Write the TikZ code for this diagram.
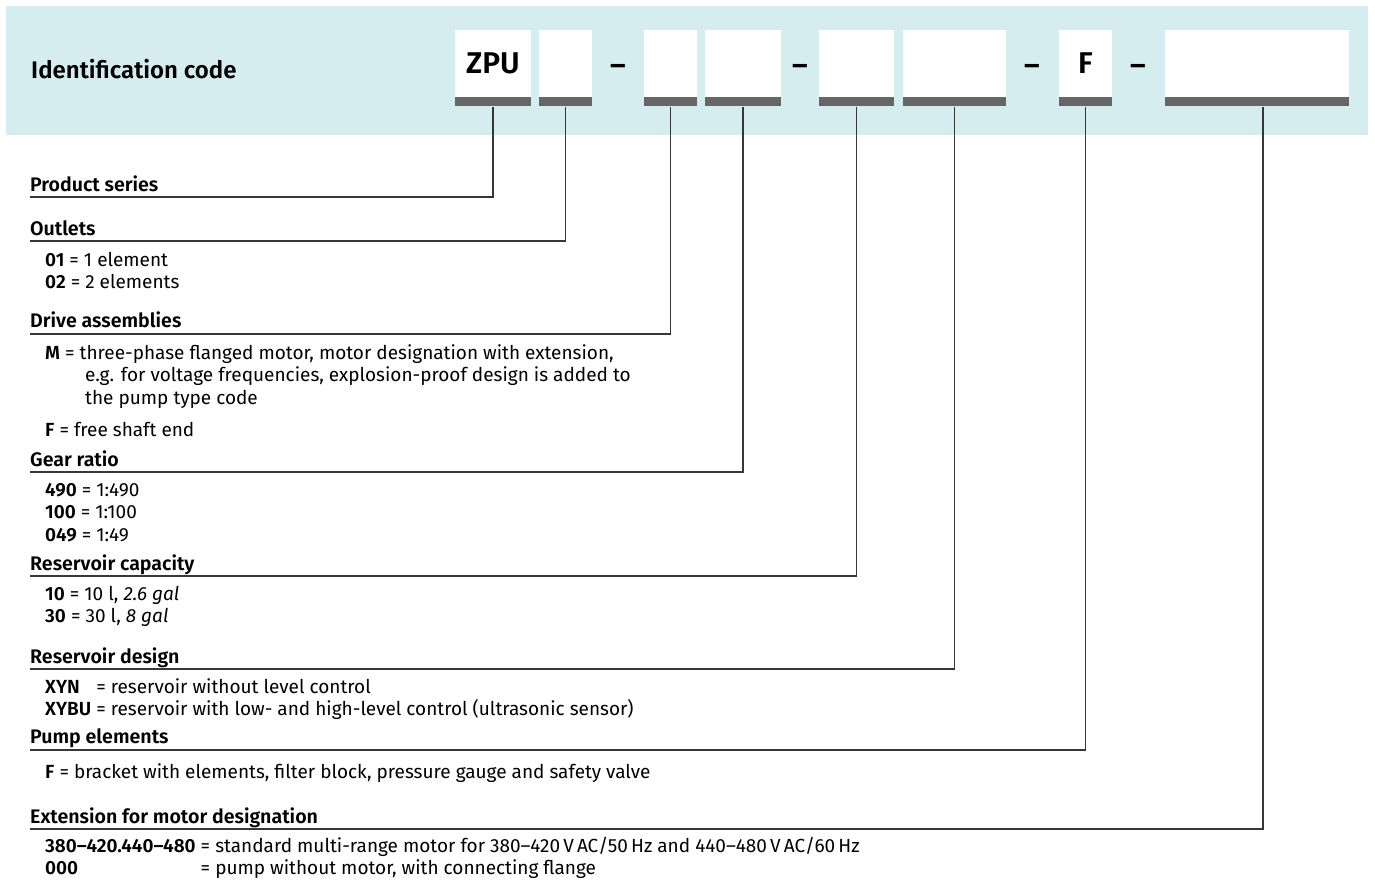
\documentclass[tikz,border=0pt]{standalone}
\usepackage{fontspec}
\setmainfont{Fira Sans}[BoldFont={Fira Sans SemiBold}, BoldItalicFont={Fira Sans SemiBold Italic}]
\usepackage{xcolor}
\usepackage{tikz}
\usetikzlibrary{positioning}
\definecolor{bandcol}{RGB}{214,237,240}
\definecolor{barcol}{RGB}{102,102,102}
\definecolor{leadcol}{RGB}{55,55,55}
\tikzset{
  band/.style={fill=bandcol, inner sep=0pt, anchor=north west},
  field/.style={fill=white, minimum height=67pt, inner sep=0pt, font=\fontsize{30}{31}\selectfont\bfseries},
  bar/.style={fill=barcol, minimum height=9pt, inner sep=0pt},
  sep/.style={anchor=base, inner sep=0pt, font=\fontsize{30}{31}\selectfont\bfseries},
  head/.style={anchor=base west, inner sep=0pt, font=\fontsize{19.6}{22.7}\selectfont\bfseries},
  item/.style={anchor=base west, inner sep=0pt, font=\fontsize{19}{22.7}\selectfont},
  lead/.style={draw=leadcol, line width=1.1pt}
}

\begin{document}
\begin{tikzpicture}[x=1pt, y=-1pt]
    \useasboundingbox (0,0) rectangle (1375,883);

    \node [band, minimum width=1362pt, minimum height=129pt] (band) at (6,6) {};
    \node [head, font=\fontsize{24}{27}\selectfont\bfseries] (title) at (31,78) {Identification code};

    \node [field, minimum width=76pt] (f1) at (493,63.5) {ZPU};
    \node [field, minimum width=53pt] (f2) at (565.5,63.5) {};
    \node [field, minimum width=53pt] (f3) at (670.5,63.5) {};
    \node [field, minimum width=76pt] (f4) at (743,63.5) {};
    \node [field, minimum width=75pt] (f5) at (856.5,63.5) {};
    \node [field, minimum width=103pt] (f6) at (954.5,63.5) {};
    \node [field, minimum width=53pt] (f7) at (1085.5,63.5) {F};
    \node [field, minimum width=184pt] (f8) at (1257,63.5) {};

    \node [bar, minimum width=76pt, below=0pt of f1] (b1) {};
    \node [bar, minimum width=53pt, below=0pt of f2] (b2) {};
    \node [bar, minimum width=53pt, below=0pt of f3] (b3) {};
    \node [bar, minimum width=76pt, below=0pt of f4] (b4) {};
    \node [bar, minimum width=75pt, below=0pt of f5] (b5) {};
    \node [bar, minimum width=103pt, below=0pt of f6] (b6) {};
    \node [bar, minimum width=53pt, below=0pt of f7] (b7) {};
    \node [bar, minimum width=184pt, below=0pt of f8] (b8) {};

    \node [sep] (d1) at (618,75) {–};
    \node [sep] (d2) at (800,75) {–};
    \node [sep] (d3) at (1032,75) {–};
    \node [sep] (d4) at (1138,75) {–};

    \node [head] (hseries) at (30,191) {Product series};
    \node [head] (houtlets) at (30,235) {Outlets};
    \node [item] (outlets) at (45,266) {\begin{tabular}[t]{@{}l@{}}\textbf{01} = 1 element\\ \textbf{02} = 2 elements\end{tabular}};
    \node [head] (hdrive) at (30,327) {Drive assemblies};
    \node [item] (drivem) at (45,359) {\begin{tabular}[t]{@{}l@{}}\textbf{M} = three-phase flanged motor, motor designation with extension,\\ \hspace*{40pt}e.g. for voltage frequencies, explosion-proof design is added to\\ \hspace*{40pt}the pump type code\end{tabular}};
    \node [item] (drivef) at (45,436) {\textbf{F} = free shaft end};
    \node [head] (hgear) at (30,466) {Gear ratio};
    \node [item] (gear) at (45,496) {\begin{tabular}[t]{@{}l@{}}\textbf{490} = 1:490\\ \textbf{100} = 1:100\\ \textbf{049} = 1:49\end{tabular}};
    \node [head] (hcap) at (30,570) {Reservoir capacity};
    \node [item] (cap) at (45,600) {\begin{tabular}[t]{@{}l@{}}\textbf{10} = 10 l, \textit{2.6 gal}\\ \textbf{30} = 30 l, \textit{8 gal}\end{tabular}};
    \node [head] (hdesign) at (30,663) {Reservoir design};
    \node [item] (design) at (45,693) {\begin{tabular}[t]{@{}l@{ }l@{}}\textbf{XYN} & = reservoir without level control\\ \textbf{XYBU} & = reservoir with low- and high-level control (ultrasonic sensor)\end{tabular}};
    \node [head] (hpump) at (30,743) {Pump elements};
    \node [item] (pump) at (45,778) {\textbf{F} = bracket with elements, filter block, pressure gauge and safety valve};
    \node [head] (hext) at (30,823) {Extension for motor designation};
    \node [item] (ext) at (45,852) {\begin{tabular}[t]{@{}l@{ }l@{}}\textbf{380–420.440–480} & = standard multi-range motor for 380–420\,V\,AC/50\,Hz and 440–480\,V\,AC/60\,Hz\\ \textbf{000} & = pump without motor, with connecting flange\end{tabular}};

    \coordinate (lseries) at (30,197);
    \coordinate (loutlets) at (30,241);
    \coordinate (ldrive) at (30,334);
    \coordinate (lgear) at (30,472);
    \coordinate (lcap) at (30,576);
    \coordinate (ldesign) at (30,669);
    \coordinate (lpump) at (30,750);
    \coordinate (lext) at (30,829);

    \draw [lead] (b1.south) |- (lseries);
    \draw [lead] (b2.south) |- (loutlets);
    \draw [lead] (b3.south) |- (ldrive);
    \draw [lead] (b4.south) |- (lgear);
    \draw [lead] (b5.south) |- (lcap);
    \draw [lead] (b6.south) |- (ldesign);
    \draw [lead] (b7.south) |- (lpump);
    \draw [lead] ([xshift=6pt]b8.south) |- (lext);
\end{tikzpicture}
\end{document}
